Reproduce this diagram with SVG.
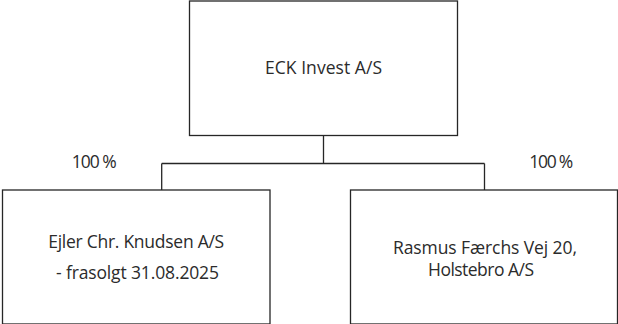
<svg xmlns="http://www.w3.org/2000/svg" width="618" height="324" viewBox="0 0 618 324">
<style>
.box{fill:#fff;stroke:#262626;stroke-width:1.3}
.con{fill:none;stroke:#262626;stroke-width:1.3}
text{font-family:"Open Sans","Liberation Sans",sans-serif;font-size:17.5px;fill:#2b2b2b;text-anchor:middle}
</style>
<rect width="618" height="324" fill="#fff"/>
<g id="connectors">
<path class="con" d="M323.5 135.5V163.5M161.7 163.5H484.5M161.7 163.5V190M484.5 163.5V190"/>
</g>
<g id="eck">
<rect class="box" x="189.5" y="1" width="268" height="134.5"/>
<text x="323.5" y="74.3" textLength="117">ECK Invest A/S</text>
</g>
<g id="ejler">
<rect class="box" x="2.5" y="190" width="267.5" height="134"/>
<text x="136.2" y="248" textLength="176">Ejler Chr. Knudsen A/S</text>
<text x="137.5" y="279" textLength="163">- frasolgt 31.08.2025</text>
</g>
<g id="rasmus">
<rect class="box" x="350.5" y="190" width="267" height="134"/>
<text x="485" y="254" textLength="184">Rasmus Færchs Vej 20,</text>
<text x="481" y="275.7" textLength="106">Holstebro A/S</text>
</g>
<g id="labels">
<text x="94.2" y="168.3" textLength="45">100 %</text>
<text x="551.2" y="168.3" textLength="44">100 %</text>
</g>
</svg>
